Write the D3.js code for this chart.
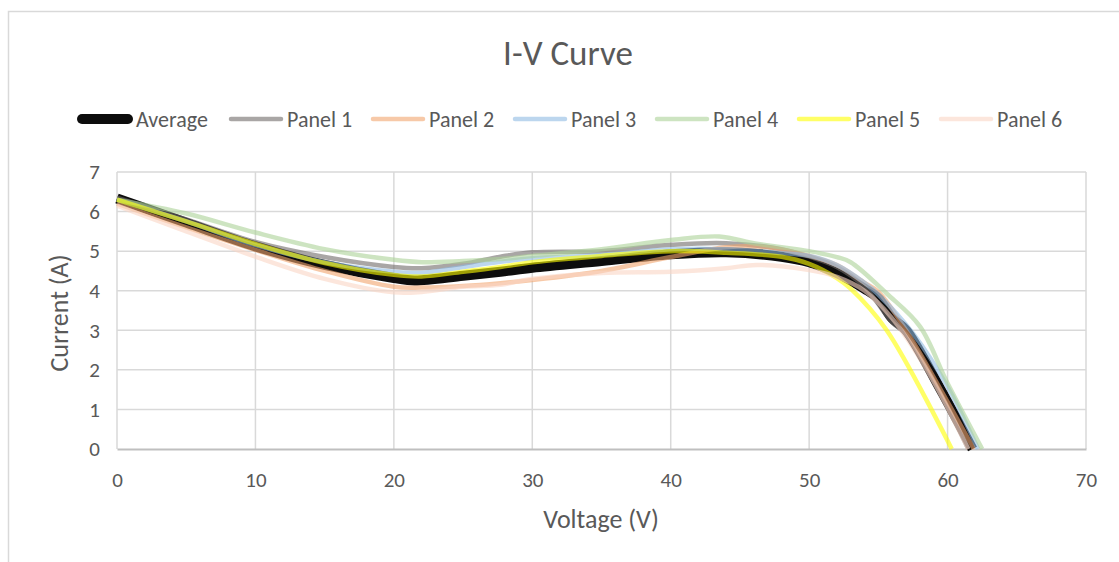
<!DOCTYPE html>
<html><head><meta charset="utf-8">
<script src="https://cdn.jsdelivr.net/npm/d3@7"></script>
<style>
html,body{margin:0;padding:0;background:#fff;}
text{font-family:Carlito,Calibri,Lato,"Noto Sans",sans-serif;fill:#595959;}
</style></head><body>
<svg id="c" width="1119" height="562"></svg>
<script>
const seriesNames = ["Average","Panel 1","Panel 2","Panel 3","Panel 4","Panel 5","Panel 6"];
const xTicks = [0,10,20,30,40,50,60,70];
const yTicks = [0,1,2,3,4,5,6,7];

const avgV = [0,5,10,15,20,21.5,25,27.7,30,35,40,44,48,50,52,54,55,56,57,59.5,61.8];
const avgI = [6.33,5.72,5.12,4.65,4.32,4.26,4.38,4.48,4.58,4.75,4.92,4.97,4.86,4.72,4.45,4.05,3.8,3.3,3.0,1.5,0];

const p1V = [0,5,10,15,20,22,25,27.7,30,35,40,44,48,50,52,54,56,57,59.5,61.5];
const p1I = [6.35,5.8,5.23,4.85,4.6,4.57,4.68,4.86,4.97,5.0,5.16,5.2,5.05,4.86,4.6,4.1,3.2,2.9,1.4,0];

const p2V = [0,5,10,15,20,22,25,27.7,30,35,40,44,47,50,52,54,55,57,59.5,61.9];
const p2I = [6.2,5.6,5.03,4.5,4.1,4.08,4.12,4.19,4.27,4.5,4.85,5.1,5.1,4.88,4.65,4.2,3.97,3.0,1.5,0];

const p3V = [0,5,10,15,20,22,25,27.7,30,35,40,44,48,50,52,54,55,57.5,60,62.2];
const p3I = [6.3,5.75,5.15,4.72,4.48,4.45,4.6,4.73,4.82,4.9,5.05,5.05,4.95,4.88,4.65,4.2,3.9,2.92,1.57,0];

const p4V = [0,5,10,15,20,22,25,27.7,30,35,40,43.5,46,48,50,52,53,55.6,58,60,62.5];
const p4I = [6.3,5.95,5.47,5.05,4.78,4.72,4.75,4.8,4.88,5.05,5.28,5.37,5.2,5.1,5.0,4.85,4.72,3.93,3.1,1.66,0];

const p5V = [0,5,10,15,20,22,25,27.7,30,35,40,44,48,50,52,53,55.6,60.3];
const p5I = [6.3,5.75,5.18,4.7,4.4,4.36,4.48,4.6,4.72,4.88,5.0,4.96,4.86,4.68,4.32,4.05,3.0,0];

const p6V = [0,5,10,15,20,22,25,27.7,30,35,40,44,46.2,50,52,54,56,58.5,61.5];
const p6I = [6.15,5.5,4.86,4.3,3.96,3.97,4.1,4.15,4.3,4.45,4.48,4.57,4.65,4.52,4.35,4.0,3.3,2.0,0];

const allV = [avgV,p1V,p2V,p3V,p4V,p5V,p6V];
const allI = [avgI,p1I,p2I,p3I,p4I,p5I,p6I];
const colors = ["#0d0d0d","#706b69","#f2a56e","#8fbbe3","#acd298","#ffff00","#fad5c5"];
const widths = [10,4.5,4.5,4.5,4.5,4.5,4.5];
const opac = [1,0.6,0.6,0.6,0.6,0.6,0.6];

const svg = d3.select("#c");
svg.append("path").attr("d","M8.5,562 V11.5 H1119").attr("fill","none").attr("stroke","#d9d9d9").attr("stroke-width",1.5);

const L=117,R=1086,T=172,B=449;
const x = d3.scaleLinear().domain([0,70]).range([L,R]);
const y = d3.scaleLinear().domain([0,7]).range([B,T]);

svg.append("g").selectAll("line").data(xTicks).join("line")
  .attr("x1",d=>x(d)).attr("x2",d=>x(d)).attr("y1",T).attr("y2",B)
  .attr("stroke","#d9d9d9").attr("stroke-width",1.5);
svg.append("g").selectAll("line").data(yTicks.filter(d=>d>0)).join("line")
  .attr("x1",L).attr("x2",R).attr("y1",d=>y(d)).attr("y2",d=>y(d))
  .attr("stroke","#d9d9d9").attr("stroke-width",1.5);

const xa = svg.append("g").attr("transform",`translate(0,${B})`).call(d3.axisBottom(x).tickValues(xTicks).tickFormat(d3.format("d")).tickSize(0).tickPadding(23));
xa.select(".domain").attr("stroke","#bfbfbf").attr("stroke-width",2);
xa.selectAll("text").attr("font-size",21).attr("fill","#595959");
const ya = svg.append("g").attr("transform",`translate(${L},0)`).call(d3.axisLeft(y).tickValues(yTicks).tickFormat(d3.format("d")).tickSize(0).tickPadding(17));
ya.select(".domain").remove();
ya.selectAll("text").attr("font-size",21).attr("fill","#595959");

const line = d3.line().x(d=>x(d[0])).y(d=>y(d[1])).curve(d3.curveCatmullRom.alpha(0.5));
const g = svg.append("g");
allV.forEach((vs,k)=>{
  const pts = vs.map((v,j)=>[v,allI[k][j]]);
  g.append("path").datum(pts).attr("d",line).attr("fill","none")
    .attr("stroke",colors[k]).attr("stroke-width",widths[k]).attr("stroke-opacity",opac[k])
    .attr("stroke-linecap","butt").attr("stroke-linejoin","round");
});

svg.append("text").attr("x",568).attr("y",65).attr("text-anchor","middle").attr("font-size",35).text("I-V Curve");
svg.append("text").attr("x",601).attr("y",528).attr("text-anchor","middle").attr("font-size",26).text("Voltage (V)");
svg.append("text").attr("transform","translate(68,313) rotate(-90)").attr("text-anchor","middle").attr("font-size",26).text("Current (A)");

const legX = [77,228,370,512,654,796,938];
const lg = svg.append("g");
seriesNames.forEach((n,k)=>{
  lg.append("line").attr("x1",legX[k]+(k===0?5:3)).attr("x2",legX[k]+(k===0?51:53)).attr("y1",119).attr("y2",119)
    .attr("stroke",colors[k]).attr("stroke-width",k===0?10:4.5).attr("stroke-opacity",opac[k]).attr("stroke-linecap","round");
  lg.append("text").attr("x",legX[k]+59).attr("y",127).attr("font-size",22).text(n);
});
</script></body></html>
